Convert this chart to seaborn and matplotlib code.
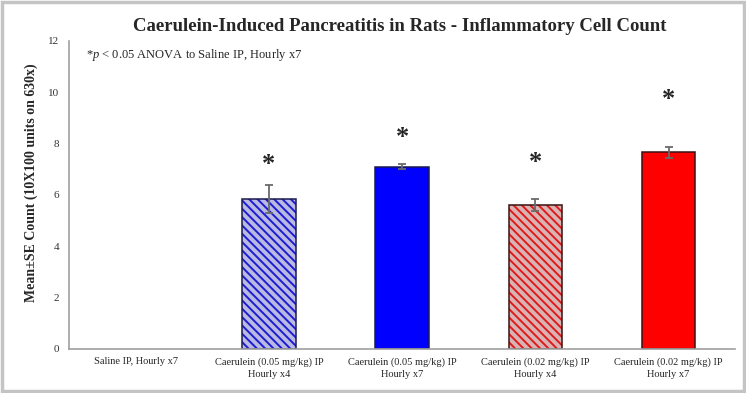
import matplotlib
matplotlib.use("Agg")
import matplotlib.pyplot as plt
from matplotlib.patches import Rectangle
import seaborn as sns

# data
groups = [
    "Saline IP, Hourly x7",
    "Caerulein (0.05 mg/kg) IP\nHourly x4",
    "Caerulein (0.05 mg/kg) IP\nHourly x7",
    "Caerulein (0.02 mg/kg) IP\nHourly x4",
    "Caerulein (0.02 mg/kg) IP\nHourly x7",
]
means = [0.0, 5.85, 7.1, 5.61, 7.66]
errors = [0.0, 0.54, 0.1, 0.24, 0.22]
significant = [False, True, True, True, True]
star_y = [0.0, 7.2, 8.25, 7.25, 9.7]

face_colors = ["#ffffff", "#b9b9e3", "#0000ff", "#d9b3b3", "#ff0000"]
hatch_colors = [None, "#1c1cd0", None, "#e01a1a", None]
edge_colors = ["#ffffff", "#1a1a50", "#1a1a50", "#3a1212", "#3a1212"]

sns.set_style("white")
plt.rcParams["font.family"] = ["Liberation Serif", "DejaVu Serif"]
plt.rcParams["mathtext.fontset"] = "custom"
plt.rcParams["mathtext.it"] = "Liberation Serif:italic"
plt.rcParams["mathtext.rm"] = "Liberation Serif"
plt.rcParams["hatch.linewidth"] = 1.4

fig = plt.figure(figsize=(7.46, 3.93), dpi=100)
ax = fig.add_axes([0.0925, 0.112, 0.893, 0.784])

sns.barplot(x=groups, y=means, hue=groups, palette=face_colors, legend=False,
            width=0.4, ax=ax, saturation=1)

for patch, hc, ec in zip(ax.patches, hatch_colors, edge_colors):
    if hc is not None:
        patch.set_hatch("\\\\\\\\")
        patch.set_edgecolor(hc)
        patch.set_linewidth(0)
        ax.add_patch(Rectangle(patch.get_xy(), patch.get_width(), patch.get_height(),
                               fill=False, edgecolor=ec, linewidth=1.1, zorder=patch.get_zorder() + 0.1))
    else:
        patch.set_edgecolor(ec)
        patch.set_linewidth(1.1)

centers = [p.get_x() + p.get_width() / 2 for p in ax.patches[:len(groups)]]
for x, m, e, sig, sy in zip(centers, means, errors, significant, star_y):
    if sig:
        ax.errorbar(x, m, yerr=e, fmt="none", ecolor="#6a6a6a", elinewidth=1.3,
                    capsize=3, capthick=1.3, zorder=5)
        ax.text(x, sy, "*", ha="center", va="center", fontsize=19, fontweight="bold")

ax.set_xlim(-0.5, 4.5)
ax.set_ylim(0, 12)
ax.set_yticks(range(0, 13, 2))
ax.set_xticks(range(len(groups)))
ax.set_xticklabels(groups, linespacing=1.45)
ax.set_xticks([i - 0.5 for i in range(len(groups) + 1)], minor=True)
ax.tick_params(axis="x", which="major", length=0, labelsize=7.5, pad=6)
ax.tick_params(axis="x", which="minor", length=4, color="#a0a0a0", width=1, direction="out")
ax.tick_params(axis="y", length=4, color="#a0a0a0", width=1, direction="out",
               labelsize=8, pad=3, labelcolor="#333333")
for side in ["top", "right"]:
    ax.spines[side].set_visible(False)
for side in ["left", "bottom"]:
    ax.spines[side].set_color("#a0a0a0")
    ax.spines[side].set_linewidth(1.2)

ax.set_ylabel("Mean\u00b1SE Count (10X100 units on 630x)", fontsize=10, fontweight="bold")
ax.yaxis.set_label_coords(-0.046, 0.54)
fig.suptitle("Caerulein-Induced Pancreatitis in Rats - Inflammatory Cell Count",
             x=0.536, y=0.955, fontsize=13.5, fontweight="bold")
ax.text(0.025, 0.955, r"*$\it{p}$ < 0.05 ANOVA to Saline IP, Hourly x7",
        transform=ax.transAxes, fontsize=9, va="center")

fig.patches.append(Rectangle((0.003, 0.005), 0.994, 0.99, transform=fig.transFigure,
                             fill=False, edgecolor="#c4c4c4", linewidth=2.5))

fig.savefig("out.png", dpi=100)
